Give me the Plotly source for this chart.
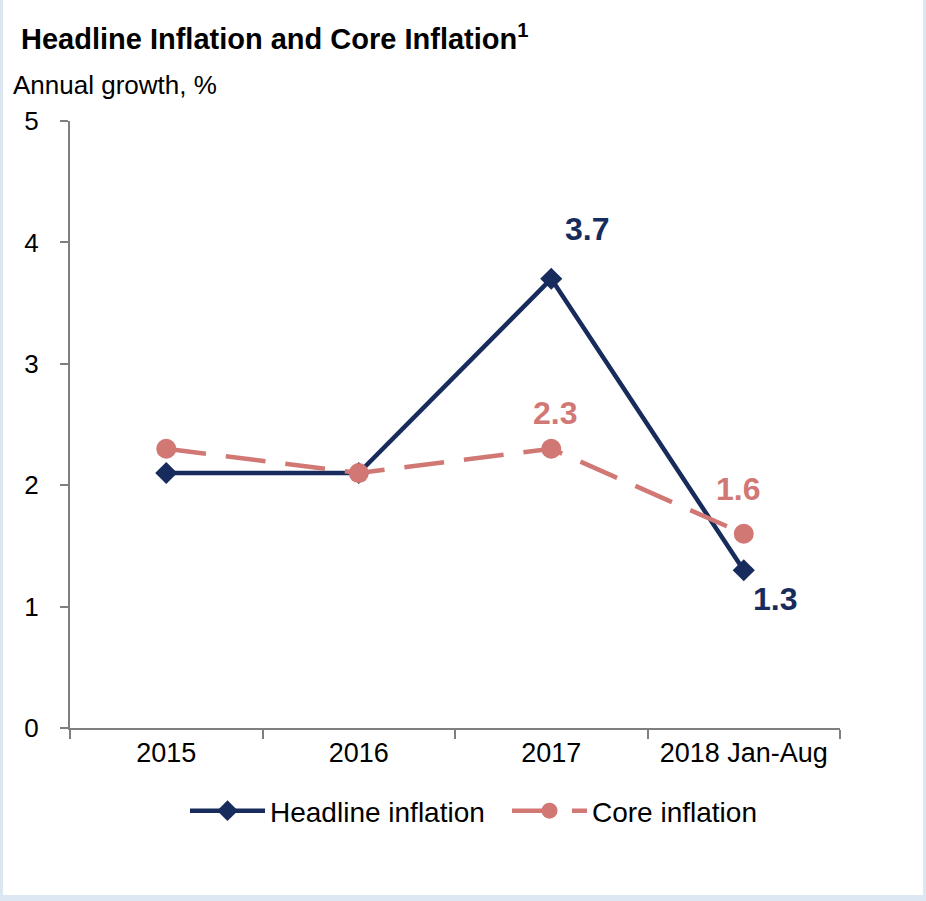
import plotly.graph_objects as go

# Data
categories = ["2015", "2016", "2017", "2018 Jan-Aug"]
headline = [2.1, 2.1, 3.7, 1.3]
core = [2.3, 2.1, 2.3, 1.6]

NAVY = "#172b5c"
ROSE = "#d17875"
FONT = "Liberation Sans, Arial, sans-serif"

W, H = 926, 901
L, R, T, B = 70, 86, 121, 173
pw, ph = W - L - R, H - T - B

def px_x(p):
    return (p - L) / pw

def px_y(p):
    return 1 - (p - T) / ph

fig = go.Figure()

fig.add_trace(go.Scatter(
    x=categories, y=headline, name="Headline inflation",
    mode="lines+markers",
    line=dict(color=NAVY, width=4.5),
    marker=dict(symbol="diamond", size=17, color=NAVY),
))
fig.add_trace(go.Scatter(
    x=categories, y=core, name="Core inflation",
    mode="lines+markers",
    line=dict(color=ROSE, width=4.5, dash="40px,20px"),
    marker=dict(symbol="circle", size=20, color=ROSE),
))

# Value labels (x given as category index)
label_specs = [
    (2, headline[2], NAVY, 36, 50),
    (3, headline[3], NAVY, 31, -29),
    (2, core[2], ROSE, 4, 36),
    (3, core[3], ROSE, -6, 45),
]
for xi, yv, col, dx, dy in label_specs:
    fig.add_annotation(
        x=xi, y=yv, text=f"<b>{yv:.1f}</b>", showarrow=False,
        xshift=dx, yshift=dy,
        font=dict(family=FONT, size=32, color=col),
    )

# Title and axis caption
fig.add_annotation(
    xref="paper", yref="paper", x=px_x(19), y=px_y(37),
    xanchor="left", yanchor="middle", showarrow=False,
    text="<b>Headline Inflation and Core Inflation<sup>1</sup></b>",
    font=dict(family=FONT, size=29, color="#000000"),
)
fig.add_annotation(
    xref="paper", yref="paper", x=px_x(11), y=px_y(85),
    xanchor="left", yanchor="middle", showarrow=False,
    text="Annual growth, %",
    font=dict(family=FONT, size=26, color="#000000"),
)

# Frame: light-blue border around a white panel
fig.add_shape(
    type="rect", xref="paper", yref="paper", layer="below",
    x0=px_x(3), x1=px_x(923), y0=px_y(895), y1=px_y(-5),
    fillcolor="white", line=dict(width=0),
)

fig.update_layout(
    width=W, height=H,
    margin=dict(l=L, r=R, t=T, b=B, pad=0),
    paper_bgcolor="#dde7f4",
    plot_bgcolor="white",
    font=dict(family=FONT, size=26, color="#000000"),
    showlegend=True,
    legend=dict(
        orientation="h", x=px_x(507), xanchor="center", y=px_y(811), yanchor="middle",
        font=dict(family=FONT, size=28, color="#000000"),
        itemwidth=75, entrywidth=232, entrywidthmode="pixels",
        bgcolor="rgba(0,0,0,0)",
    ),
    xaxis=dict(
        type="category", range=[-0.5, 3.5],
        showline=True, linecolor="#7f7f7f", linewidth=2,
        ticks="outside", ticklen=9, tickwidth=2, tickcolor="#7f7f7f",
        tickson="boundaries", showgrid=False, zeroline=False,
        tickfont=dict(family=FONT, size=27, color="#000000"),
        fixedrange=True,
    ),
    yaxis=dict(
        range=[0, 5], dtick=1, tick0=0,
        showline=True, linecolor="#7f7f7f", linewidth=2,
        ticks="outside", ticklen=8, tickwidth=2, tickcolor="#7f7f7f",
        showgrid=False, zeroline=False,
        tickfont=dict(family=FONT, size=26, color="#000000"),
        ticklabelstandoff=16,
        fixedrange=True,
    ),
)

fig.write_html("out.html")
